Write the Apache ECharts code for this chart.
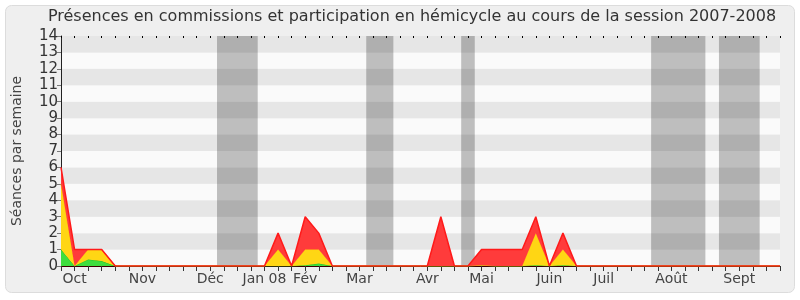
<!DOCTYPE html>
<html><head><meta charset="utf-8">
<script src="https://cdn.jsdelivr.net/npm/echarts@6/dist/echarts.min.js"></script>
<style>html,body{margin:0;padding:0;background:#fff}#c{width:800px;height:300px}</style>
</head><body><div id="c"></div>
<script>
// week index 0..53 (weekly samples, session 2007-2008)
const weeks  = ['0','1','2','3','4','5','6','7','8','9','10','11','12','13','14','15','16','17','18','19','20','21','22','23','24','25','26','27','28','29','30','31','32','33','34','35','36','37','38','39','40','41','42','43','44','45','46','47','48','49','50','51','52','53'];
const green  = [1,0,0.4,0.3,0,0,0,0,0,0,0,0,0,0,0,0,0,0,0.05,0.15,0,0,0,0,0,0,0,0,0,0,0,0.05,0,0,0,0.05,0,0.05,0,0,0,0,0,0,0,0,0,0,0,0,0,0,0,0];
const yellow = [4,0,0.6,0.7,0,0,0,0,0,0,0,0,0,0,0,0,1,0,0.95,0.85,0,0,0,0,0,0,0,0,0,0,0,0,0,0,0,1.95,0,0.95,0,0,0,0,0,0,0,0,0,0,0,0,0,0,0,0];
const red    = [1,1,0,0,0,0,0,0,0,0,0,0,0,0,0,0,1,0,2,1,0,0,0,0,0,0,0,0,3,0,0,0.95,1,1,1,1,0,1,0,0,0,0,0,0,0,0,0,0,0,0,0,0,0,0];
const monthLabels = ['Oct','Nov','Déc','Jan 08','Fév','Mar','Avr','Mai','Juin','Juil','Août','Sept'];
const monthWeeks  = [1,6,11,15,18,22,27,31,36,40,45,50];
const vacations   = [[11.5,14.5],[22.5,24.5],[29.5,30.5],[43.5,47.5],[48.5,51.5]];
const titleText = 'Présences en commissions et participation en hémicycle au cours de la session 2007-2008';

const FONT = 'DejaVu Sans';
const chart = echarts.init(document.getElementById('c'), null, {renderer:'canvas'});
chart.setOption({
  animation:false,
  backgroundColor:'#ffffff',
  graphic:[
    {type:'rect',z:-10,shape:{x:5.5,y:5.5,width:789,height:287,r:6},style:{fill:'#efefef',stroke:'#dcdcdc',lineWidth:1}},
    {type:'text',z:10,x:412,y:17,style:{text:titleText,textAlign:'center',textVerticalAlign:'middle',fontFamily:FONT,fontSize:16,fill:'#333'}}
  ],
  grid:{left:61,right:20,top:36,bottom:34},
  xAxis:[{
    type:'category',data:weeks,boundaryGap:false,
    axisLine:{show:true,lineStyle:{color:'#3a0000',width:1}},
    axisTick:{show:true,length:5,interval:0,lineStyle:{color:'#333'}},
    axisLabel:{fontFamily:FONT,fontSize:14,color:'#444',margin:6,interval:0,
      formatter:(v,i)=>{const k=monthWeeks.indexOf(i);return k>=0?monthLabels[k]:'';}},
    splitLine:{show:false}
  },{
    type:'category',data:weeks,boundaryGap:false,position:'top',
    axisLine:{show:false},
    axisTick:{show:true,inside:true,interval:0,length:2,lineStyle:{color:'#000'}},
    axisLabel:{show:false},splitLine:{show:false}
  },{
    type:'value',min:0,max:53,show:false
  }],
  yAxis:{
    type:'value',min:0,max:14,interval:1,
    name:'Séances par semaine',nameLocation:'middle',nameGap:37,nameRotate:90,
    nameTextStyle:{fontFamily:FONT,fontSize:14,color:'#444'},
    axisLine:{show:true,lineStyle:{color:'#222'}},
    axisTick:{show:true,length:4,lineStyle:{color:'#777'}},
    axisLabel:{fontFamily:FONT,fontSize:15,color:'#333',margin:3},
    splitLine:{show:false},
    splitArea:{show:true,areaStyle:{color:['#fafafa','#e6e6e6']}}
  },
  series:[
    {type:'line',xAxisIndex:2,data:[],z:2,
      markArea:{silent:true,itemStyle:{color:'rgba(0,0,0,0.24)'},data:vacations.map(v=>[{xAxis:v[0]},{xAxis:v[1]}])}},
    {type:'line',stack:'s',data:green,symbol:'none',lineStyle:{color:'#20c020',width:1},areaStyle:{color:'#3ede3e',opacity:1},z:3},
    {type:'line',stack:'s',data:yellow,symbol:'none',lineStyle:{color:'#ffcc00',width:1},areaStyle:{color:'#ffd614',opacity:1},z:4},
    {type:'line',stack:'s',data:red,symbol:'none',lineStyle:{color:'#ff1a1a',width:1.5},areaStyle:{color:'#ff3b3b',opacity:1},z:5}
  ]
});
</script></body></html>
